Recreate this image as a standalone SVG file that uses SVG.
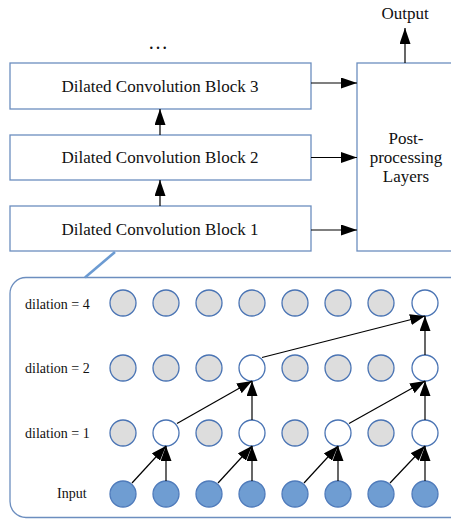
<svg xmlns="http://www.w3.org/2000/svg" width="451" height="519" viewBox="0 0 451 519">
<style>
.box{fill:#ffffff;stroke:#6c8ebf;stroke-width:1.3}
.t{font-family:"Liberation Serif","Times New Roman",serif;fill:#111}
.big{font-size:17px;text-anchor:middle}
.lab{font-size:14px}
.g{fill:#dddddd;stroke:#4a74b4;stroke-width:1.3}
.w{fill:#ffffff;stroke:#4a74b4;stroke-width:1.3}
.in{fill:#6f9dd2;stroke:#4f7bbb;stroke-width:1.3}
.c{stroke:#000;stroke-width:1.2;fill:none}
</style>
<defs>
<marker id="ah" markerUnits="userSpaceOnUse" markerWidth="17" markerHeight="11" refX="16" refY="5.5" orient="auto">
<path d="M0,0 L16,5.5 L0,11 z" fill="#000"/>
</marker>
<marker id="ahs" markerUnits="userSpaceOnUse" markerWidth="16" markerHeight="11" refX="15" refY="5.5" orient="auto">
<path d="M0,0 L15,5.5 L0,11 z" fill="#000"/>
</marker>
</defs>

<text class="t" x="158" y="49" style="font-size:20px;text-anchor:middle">…</text>

<g id="block3"><rect class="box" x="10" y="63" width="301" height="46"/><text class="t big" x="160" y="92">Dilated Convolution Block 3</text></g>
<g id="block2"><rect class="box" x="10" y="135" width="301" height="45"/><text class="t big" x="160" y="163">Dilated Convolution Block 2</text></g>
<g id="block1"><rect class="box" x="10" y="206" width="301" height="45"/><text class="t big" x="160" y="235">Dilated Convolution Block 1</text></g>
<g id="post"><rect class="box" x="357" y="63" width="110" height="188"/>
<text class="t big" x="406" y="144">Post-</text><text class="t big" x="406" y="163">processing</text><text class="t big" x="406" y="182">Layers</text></g>
<g id="output"><text class="t big" x="405" y="19">Output</text></g>

<g id="detail">
<rect x="10" y="277.5" width="470" height="240" rx="16" fill="none" stroke="#6c8ebf" stroke-width="1.3"/>
<line x1="115" y1="252" x2="85" y2="277.5" stroke="#6c9bd2" stroke-width="2.6"/>
<text class="t lab" x="25" y="309">dilation = 4</text>
<text class="t lab" x="25" y="373">dilation = 2</text>
<text class="t lab" x="25" y="438">dilation = 1</text>
<text class="t lab" x="57" y="498">Input</text>
</g>

<g id="row4">
<circle class="g" cx="123" cy="303" r="13"/><circle class="g" cx="166" cy="303" r="13"/><circle class="g" cx="209" cy="303" r="13"/><circle class="g" cx="252" cy="303" r="13"/><circle class="g" cx="295" cy="303" r="13"/><circle class="g" cx="338" cy="303" r="13"/><circle class="g" cx="381" cy="303" r="13"/><circle class="w" cx="425" cy="303" r="13"/>
</g>
<g id="row2">
<circle class="g" cx="123" cy="368" r="13"/><circle class="g" cx="166" cy="368" r="13"/><circle class="g" cx="209" cy="368" r="13"/><circle class="w" cx="252" cy="368" r="13"/><circle class="g" cx="295" cy="368" r="13"/><circle class="g" cx="338" cy="368" r="13"/><circle class="g" cx="381" cy="368" r="13"/><circle class="w" cx="425" cy="368" r="13"/>
</g>
<g id="row1">
<circle class="g" cx="123" cy="433" r="13"/><circle class="w" cx="166" cy="433" r="13"/><circle class="g" cx="209" cy="433" r="13"/><circle class="w" cx="252" cy="433" r="13"/><circle class="g" cx="295" cy="433" r="13"/><circle class="w" cx="338" cy="433" r="13"/><circle class="g" cx="381" cy="433" r="13"/><circle class="w" cx="425" cy="433" r="13"/>
</g>
<g id="input">
<circle class="in" cx="123" cy="494" r="13"/><circle class="in" cx="166" cy="494" r="13"/><circle class="in" cx="209" cy="494" r="13"/><circle class="in" cx="252" cy="494" r="13"/><circle class="in" cx="295" cy="494" r="13"/><circle class="in" cx="338" cy="494" r="13"/><circle class="in" cx="381" cy="494" r="13"/><circle class="in" cx="425" cy="494" r="13"/>
</g>

<g id="connectors">
<line class="c" x1="311" y1="83" x2="357" y2="83" marker-end="url(#ah)"/>
<line class="c" x1="311" y1="157.5" x2="357" y2="157.5" marker-end="url(#ah)"/>
<line class="c" x1="311" y1="230" x2="357" y2="230" marker-end="url(#ah)"/>
<line class="c" x1="160" y1="135" x2="160" y2="109" marker-end="url(#ah)"/>
<line class="c" x1="160" y1="206" x2="160" y2="180" marker-end="url(#ah)"/>
<line class="c" x1="405" y1="63" x2="405" y2="28" marker-end="url(#ah)"/>

<line class="c" x1="132" y1="483" x2="166" y2="446" marker-end="url(#ahs)"/>
<line class="c" x1="166" y1="481" x2="166" y2="446" marker-end="url(#ahs)"/>
<line class="c" x1="218" y1="483" x2="252" y2="446" marker-end="url(#ahs)"/>
<line class="c" x1="252" y1="481" x2="252" y2="446" marker-end="url(#ahs)"/>
<line class="c" x1="304" y1="483" x2="338" y2="446" marker-end="url(#ahs)"/>
<line class="c" x1="338" y1="481" x2="338" y2="446" marker-end="url(#ahs)"/>
<line class="c" x1="390" y1="483" x2="425" y2="446" marker-end="url(#ahs)"/>
<line class="c" x1="425" y1="481" x2="425" y2="446" marker-end="url(#ahs)"/>

<line class="c" x1="177" y1="423.5" x2="252" y2="381" marker-end="url(#ahs)"/>
<line class="c" x1="252" y1="420" x2="252" y2="381" marker-end="url(#ahs)"/>
<line class="c" x1="349" y1="423.5" x2="425" y2="381" marker-end="url(#ahs)"/>
<line class="c" x1="425" y1="420" x2="425" y2="381" marker-end="url(#ahs)"/>

<line class="c" x1="262" y1="357.5" x2="425" y2="316" marker-end="url(#ahs)"/>
<line class="c" x1="425" y1="355" x2="425" y2="316" marker-end="url(#ahs)"/>
</g>
</svg>
